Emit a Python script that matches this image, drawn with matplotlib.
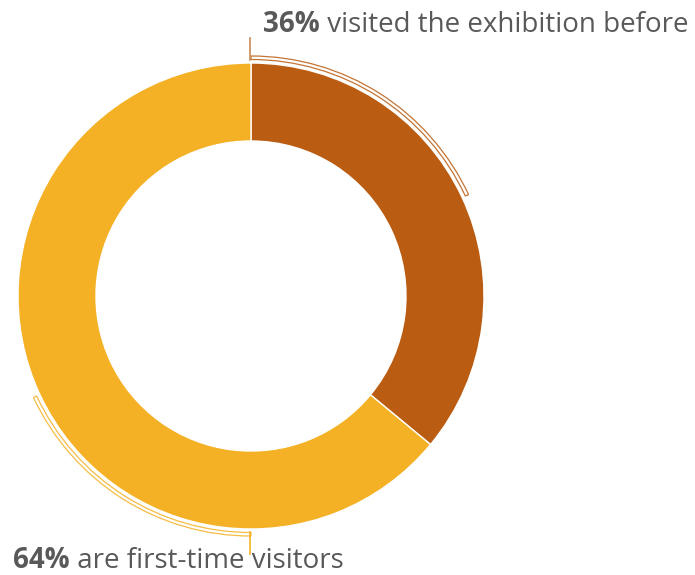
import matplotlib.pyplot as plt
from matplotlib.patches import Wedge

# visitor share data
labels = ['visited the exhibition before', 'are first-time visitors']
shares = [36, 64]
colors = ['#BA5C12', '#F4B125']


def main():
    fig = plt.figure(figsize=(6.95, 5.75), dpi=100)
    ax = fig.add_axes([0, 0, 1, 1])

    cx, cy = 251, 279
    r_out = 233
    ring = 78

    ax.pie(shares, colors=colors, startangle=90, counterclock=False,
           center=(cx, cy), radius=r_out, frame=True,
           wedgeprops=dict(width=ring, edgecolor='white', linewidth=1))
    ax.set_xlim(0, 695)
    ax.set_ylim(0, 575)
    ax.set_aspect('equal')
    ax.axis('off')

    # thin brackets outside the ring covering the first half of each slice
    brackets = [(25, 90), (-155, -90)]
    for (t1, t2), c in zip(brackets, colors):
        ax.add_patch(Wedge((cx, cy), r_out + 7, t1, t2, width=3.5, facecolor='white',
                           edgecolor=c, linewidth=0.9, alpha=0.85))

    # stems up / down to the labels
    ax.plot([cx - 1, cx - 1], [cy + r_out + 3, cy + r_out + 25], color='#C98A55', lw=1.2)
    ax.plot([cx - 1, cx - 1], [cy - r_out - 3, cy - r_out - 25], color=colors[1], lw=1.2)

    # labels
    t = ax.annotate('36%', (263, 575 - 32), fontsize=20, fontweight='bold', color='#595959',
                    family='Open Sans', va='baseline')
    ax.annotate(' ' + labels[0], xycoords=t, xy=(1, 0), fontsize=20, color='#595959',
                family='Open Sans', va='bottom')
    t2 = ax.annotate('64%', (13, 575 - 568), fontsize=20, fontweight='bold', color='#595959',
                     family='Open Sans', va='baseline')
    ax.annotate(' ' + labels[1], xycoords=t2, xy=(1, 0), fontsize=20, color='#595959',
                family='Open Sans', va='bottom')

    fig.savefig('out.png', dpi=100)


if __name__ == "__main__":
    main()
